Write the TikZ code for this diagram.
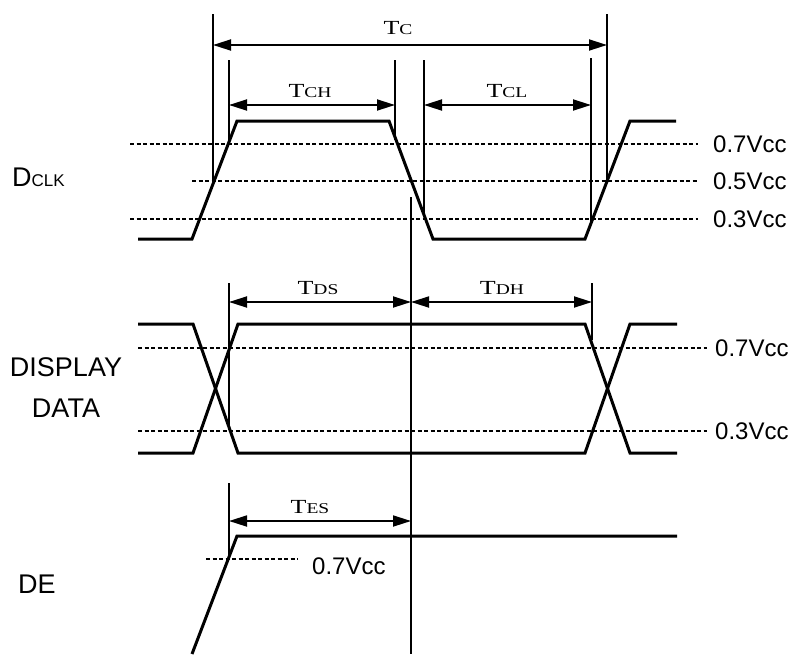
\documentclass[tikz,border=0pt]{standalone}
\usepackage{fontspec}
\setmainfont{Liberation Sans}
\newfontfamily\serifT[FakeStretch=1.3]{Liberation Serif}
\usetikzlibrary{arrows.meta}

\newcommand{\tlabel}[1]{{\serifT\fontsize{20}{20}\selectfont T\fontsize{15}{15}\selectfont #1}}

\begin{document}
\begin{tikzpicture}[
    x=1pt, y=-1pt,
    wave/.style={line width=3pt, line join=miter},
    guide/.style={line width=1.6pt},
    level/.style={line width=1.3pt, dash pattern=on 4pt off 2.5pt},
    span/.style={line width=1.8pt,
                 {Triangle[length=18pt,width=11pt]}-{Triangle[length=18pt,width=11pt]}},
    vcc/.style={anchor=west, inner sep=0pt, font=\fontsize{24}{24}\selectfont},
    sig/.style={inner sep=0pt, align=center, font=\fontsize{27}{41}\selectfont},
    tname/.style={anchor=base, inner sep=0pt}
]
    \useasboundingbox (0,0) rectangle (795,654);

    % DCLK
    \node[sig, anchor=west] (dclk) at (12,177) {D{\fontsize{17}{17}\selectfont CLK}};
    \draw[level] (130,144) -- (698,144);
    \draw[level] (192,181) -- (698,181);
    \draw[level] (130,219) -- (698,219);
    \node[vcc] (clk7) at (713,144) {0.7Vcc};
    \node[vcc] (clk5) at (713,181) {0.5Vcc};
    \node[vcc] (clk3) at (713,219) {0.3Vcc};
    \draw[wave] (138,239) -- (192,239) -- (237,121) -- (389,121) -- (433,239)
                -- (585,239) -- (630,121) -- (676,121);

    % cycle and half cycles
    \draw[guide] (213,14) -- (213,182);
    \draw[guide] (607,14) -- (607,182);
    \draw[guide] (229,60) -- (229,143);
    \draw[guide] (395,60) -- (395,140);
    \draw[guide] (424,60) -- (424,217);
    \draw[guide] (591,58) -- (591,222);
    \coordinate (tcA) at (213,45);
    \coordinate (tcB) at (607,45);
    \coordinate (tchA) at (229,105);
    \coordinate (tchB) at (395,105);
    \coordinate (tclA) at (424,105);
    \coordinate (tclB) at (591,105);
    \draw[span] (tcA) -- (tcB);
    \draw[span] (tchA) -- (tchB);
    \draw[span] (tclA) -- (tclB);
    \node[tname] (tc) at (398,34) {\tlabel{C}};
    \node[tname] (tch) at (310,97) {\tlabel{CH}};
    \node[tname] (tcl) at (507,97) {\tlabel{CL}};

    % sampling edge
    \draw[guide] (411,197) -- (411,654);

    % DISPLAY DATA
    \node[sig] (data) at (66,388) {DISPLAY\\DATA};
    \draw[level] (138,348) -- (707,348);
    \draw[level] (138,431) -- (707,431);
    \node[vcc] (data7) at (715,348) {0.7Vcc};
    \node[vcc] (data3) at (715,431) {0.3Vcc};
    \draw[wave] (138,324) -- (193,324) -- (238,453) -- (585,453) -- (630,324) -- (677,324);
    \draw[wave] (138,453) -- (193,453) -- (238,324) -- (585,324) -- (630,453) -- (677,453);
    \draw[guide] (229,283) -- (229,430);
    \draw[guide] (592,283) -- (592,340);
    \coordinate (tdsA) at (229,302);
    \coordinate (tdsB) at (411,302);
    \coordinate (tdhB) at (592,302);
    \draw[span] (tdsA) -- (tdsB);
    \draw[span] (tdsB) -- (tdhB);
    \node[tname] (tds) at (318,294) {\tlabel{DS}};
    \node[tname] (tdh) at (502,294) {\tlabel{DH}};

    % DE
    \node[sig] (de) at (37,584) {DE};
    \draw[level] (206,559) -- (298,559);
    \node[vcc] (de7) at (312,566) {0.7Vcc};
    \draw[wave] (192,654) -- (237,536) -- (677,536);
    \draw[guide] (229,483) -- (229,558);
    \coordinate (tesA) at (229,521);
    \coordinate (tesB) at (411,521);
    \draw[span] (tesA) -- (tesB);
    \node[tname] (tes) at (310,513) {\tlabel{ES}};
\end{tikzpicture}
\end{document}
